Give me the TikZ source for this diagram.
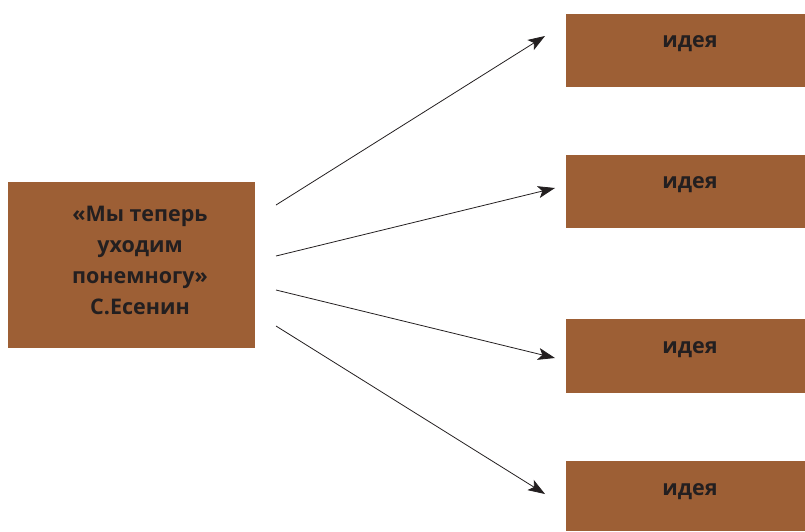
\documentclass[tikz,border=0pt]{standalone}
\usepackage{fontspec}
\setmainfont{Open Sans}
\usepackage{xcolor}
\usepackage{tikz}
\usetikzlibrary{arrows.meta,positioning}
\definecolor{rust}{HTML}{9D5F35}
\definecolor{ink}{HTML}{231F20}
\tikzstyle{line}=[draw,line width=0.8pt,ink]
\tikzstyle{arrow}=[-{Stealth[length=17pt,width=12pt,inset=4pt]}]
\tikzstyle{boxed}=[rectangle,fill=rust,draw=none,inner sep=0pt]
\tikzstyle{label}=[font=\bfseries\fontsize{21.5}{31}\selectfont,text=ink,align=center]

\begin{document}
\begin{tikzpicture}[x=1pt,y=-1pt]
\useasboundingbox (0,0) rectangle (805,531);
% source box
\node[boxed,minimum width=247pt,minimum height=166pt](quote) at (131.5,265){};
\node[label](quotetext) at (140,260.5){«Мы теперь\\уходим\\понемногу»\\С.Есенин};
% idea boxes
\node[boxed,minimum width=239pt,minimum height=73pt](idea1) at (685.5,50.5){};
\node[boxed,minimum width=239pt,minimum height=73pt](idea2) at (685.5,191.5){};
\node[boxed,minimum width=239pt,minimum height=74pt](idea3) at (685.5,356){};
\node[boxed,minimum width=239pt,minimum height=70pt](idea4) at (685.5,496){};
\node[label](text1) at (690,43.5){идея};
\node[label](text2) at (690,184.5){идея};
\node[label](text3) at (690,349.5){идея};
\node[label](text4) at (690,491.5){идея};
% arrow ends
\coordinate (s1) at (276,205);
\coordinate (s2) at (276,256);
\coordinate (s3) at (276,290);
\coordinate (s4) at (276,326);
\coordinate (e1) at (545,36);
\coordinate (e2) at (555,188);
\coordinate (e3) at (555,358);
\coordinate (e4) at (545,494);
\draw[line,arrow](s1)--(e1);
\draw[line,arrow](s2)--(e2);
\draw[line,arrow](s3)--(e3);
\draw[line,arrow](s4)--(e4);
\end{tikzpicture}
\end{document}
